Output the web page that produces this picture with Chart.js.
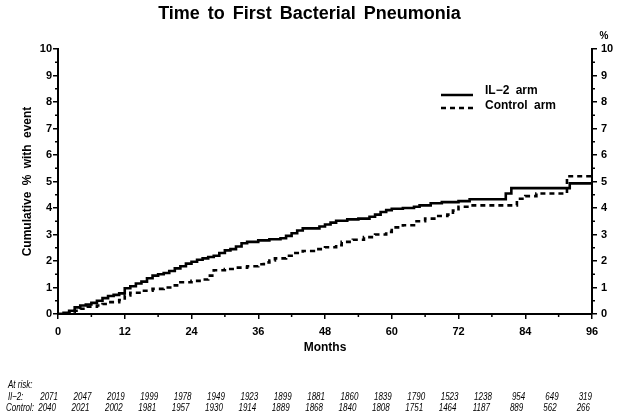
<!DOCTYPE html>
<html>
<head>
<meta charset="utf-8">
<script src="https://cdn.jsdelivr.net/npm/chart.js@4.4.0/dist/chart.umd.min.js"></script>
<style>
  html, body { margin: 0; padding: 0; background: #fff; }
</style>
</head>
<body>
<canvas id="km" width="619" height="413"></canvas>
<script>
// step points: month at which the cumulative % changes, and the new value
const il2Months = [0, 1, 2, 3, 4, 5, 6, 7, 8, 9, 10, 11, 12, 13, 14, 15, 16, 17, 18, 19, 20, 21, 22, 23, 24, 25, 26, 27, 28, 29, 30, 31, 32, 33, 34, 36, 38, 40, 41, 42, 43, 44, 47, 48, 49, 50, 52, 54, 56, 57, 58, 59, 60, 62, 64, 65, 67, 69, 72, 74, 80.5, 81.5, 92, 96]
const il2Pct = [0, 0.05, 0.12, 0.25, 0.32, 0.36, 0.42, 0.5, 0.6, 0.68, 0.72, 0.78, 0.97, 1.05, 1.15, 1.22, 1.35, 1.45, 1.5, 1.55, 1.62, 1.72, 1.8, 1.9, 1.97, 2.05, 2.1, 2.15, 2.2, 2.3, 2.4, 2.45, 2.55, 2.67, 2.72, 2.78, 2.82, 2.86, 2.95, 3.05, 3.15, 3.23, 3.3, 3.38, 3.45, 3.52, 3.57, 3.6, 3.67, 3.75, 3.85, 3.92, 3.97, 4.0, 4.05, 4.1, 4.18, 4.22, 4.26, 4.33, 4.55, 4.75, 4.93, 4.93]

const ctrlMonths = [0, 2, 3, 4, 5, 7, 8, 9, 11, 12, 13, 15, 17, 19, 21, 22, 24, 26, 27, 28, 30, 32, 34, 36, 37, 38, 39, 41, 42, 44, 46, 48, 50, 51, 53, 55, 57, 59, 60, 62, 64, 66, 68, 70, 71, 72, 74, 82.5, 84, 86, 91.5, 96]
const ctrlPct = [0, 0.05, 0.12, 0.2, 0.28, 0.32, 0.38, 0.45, 0.53, 0.7, 0.8, 0.88, 0.95, 1.0, 1.08, 1.2, 1.25, 1.3, 1.45, 1.65, 1.7, 1.75, 1.8, 1.88, 1.95, 2.02, 2.1, 2.2, 2.3, 2.38, 2.45, 2.52, 2.6, 2.72, 2.8, 2.9, 3.0, 3.1, 3.27, 3.35, 3.5, 3.6, 3.7, 3.75, 3.9, 4.05, 4.1, 4.35, 4.45, 4.55, 5.2, 5.2]

// numbers at risk, every 6 months
const riskMonths = [0, 6, 12, 18, 24, 30, 36, 42, 48, 54, 60, 66, 72, 78, 84, 90, 96]
const riskIl2 = [2071, 2047, 2019, 1999, 1978, 1949, 1923, 1899, 1881, 1860, 1839, 1790, 1523, 1238, 954, 649, 319]
const riskCtrl = [2040, 2021, 2002, 1981, 1957, 1930, 1914, 1889, 1868, 1840, 1808, 1751, 1464, 1187, 889, 562, 266]

const seriesNames = ['IL\u22122 arm', 'Control arm']

const toPts = (xs, ys) => xs.map((m, i) => ({ x: m, y: ys[i] }))

const FONT = 'Arial, "Liberation Sans", sans-serif'

// the original has wide gaps between words
const spacing = {
    id: 'spacing',
    beforeDraw(chart) {
        chart.ctx.wordSpacing = '3px'
    }
}

// squeezed italic text for the at-risk table
function narrowText(ctx, txt, x, y) {
    ctx.save()
    ctx.translate(x, y)
    ctx.scale(0.8, 1)
    ctx.fillText(txt, 0, 0)
    ctx.restore()
}

// short minor ticks, legend, "%" and the at-risk table
const extras = {
    id: 'extras',
    afterDraw(chart) {
        const ctx = chart.ctx
        const xs = chart.scales.x, ys = chart.scales.y, ys2 = chart.scales.y2
        ctx.save()
        ctx.strokeStyle = '#000'
        ctx.lineWidth = 1.5
        ctx.beginPath()
        for (let v = 0.5; v < 10; v += 1) {
            const py = ys.getPixelForValue(v)
            ctx.moveTo(xs.left - 3, py); ctx.lineTo(xs.left, py)
            ctx.moveTo(xs.right, py); ctx.lineTo(xs.right + 3, py)
        }
        for (let m = 6; m < 96; m += 12) {
            const px = xs.getPixelForValue(m)
            ctx.moveTo(px, ys.bottom); ctx.lineTo(px, ys.bottom + 3)
        }
        ctx.stroke()

        // legend
        ctx.lineWidth = 2.5
        ctx.beginPath(); ctx.moveTo(441, 95); ctx.lineTo(473, 95); ctx.stroke()
        ctx.setLineDash([5, 4])
        ctx.beginPath(); ctx.moveTo(441, 108); ctx.lineTo(473, 108); ctx.stroke()
        ctx.setLineDash([])
        ctx.fillStyle = '#000'
        ctx.font = 'bold 12px ' + FONT
        ctx.textBaseline = 'middle'
        ctx.textAlign = 'left'
        ctx.fillText(seriesNames[0], 485, 91)
        ctx.fillText(seriesNames[1], 485, 106)

        ctx.font = 'bold 10px ' + FONT
        ctx.textAlign = 'center'
        ctx.fillText('%', ys2.left + 12, 36)

        // at risk table
        ctx.wordSpacing = '0px'
        ctx.font = 'italic 10px ' + FONT
        ctx.textAlign = 'left'
        narrowText(ctx, 'At risk:', 8, 385)
        narrowText(ctx, 'Il\u22122:', 8, 397)
        narrowText(ctx, 'Control:', 6, 408)
        ctx.textAlign = 'right'
        riskMonths.forEach((m, i) => {
            const px = xs.getPixelForValue(m)
            narrowText(ctx, String(riskIl2[i]), px, 397)
            narrowText(ctx, String(riskCtrl[i]), px - 2, 408)
        })
        ctx.restore()
    }
}

const tickFont = { family: FONT, size: 11, weight: 'bold' }

new Chart(document.getElementById('km'), {
    type: 'line',
    data: {
        datasets: [{
            label: seriesNames[0],
            data: toPts(il2Months, il2Pct),
            borderColor: '#000',
            borderWidth: 2.6,
            stepped: 'before',
            pointRadius: 0,
            yAxisID: 'y'
        }, {
            label: seriesNames[1],
            data: toPts(ctrlMonths, ctrlPct),
            borderColor: '#000',
            borderWidth: 2.6,
            borderDash: [5, 4],
            stepped: 'before',
            pointRadius: 0,
            yAxisID: 'y'
        }]
    },
    options: {
        responsive: false,
        animation: false,
        devicePixelRatio: 1,
        layout: { padding: 0 },
        scales: {
            x: {
                type: 'linear',
                min: 0,
                max: 96,
                afterFit: (s) => { s.height = 99 },
                ticks: { stepSize: 12, color: '#000', font: tickFont, padding: 6, maxRotation: 0 },
                grid: { drawOnChartArea: false, tickLength: 5, color: '#000', lineWidth: 1.5 },
                border: { display: true, color: '#000', width: 2 },
                title: {
                    display: true,
                    text: 'Months',
                    color: '#000',
                    font: { family: FONT, size: 12, weight: 'bold' },
                    padding: { top: 0, bottom: 58 }
                }
            },
            y: {
                position: 'left',
                min: 0,
                max: 10,
                afterFit: (s) => { s.width = 58 },
                ticks: { stepSize: 1, color: '#000', font: tickFont, padding: 1 },
                grid: { drawOnChartArea: false, tickLength: 5, color: '#000', lineWidth: 1.5 },
                border: { display: true, color: '#000', width: 2 },
                title: {
                    display: true,
                    text: 'Cumulative % with event',
                    color: '#000',
                    font: { family: FONT, size: 12, weight: 'bold' },
                    padding: { top: 20, bottom: 0 }
                }
            },
            y2: {
                position: 'right',
                min: 0,
                max: 10,
                afterFit: (s) => { s.width = 27 },
                ticks: { stepSize: 1, color: '#000', font: tickFont, padding: 4 },
                grid: { drawOnChartArea: false, tickLength: 5, color: '#000', lineWidth: 1.5 },
                border: { display: true, color: '#000', width: 2 }
            }
        },
        plugins: {
            legend: { display: false },
            tooltip: { enabled: false },
            title: {
                display: true,
                text: 'Time to First Bacterial Pneumonia',
                color: '#000',
                font: { family: FONT, size: 18, weight: 'bold' },
                padding: { top: 3, bottom: 24.4 }
            }
        }
    },
    plugins: [spacing, extras]
});
</script>
</body>
</html>
